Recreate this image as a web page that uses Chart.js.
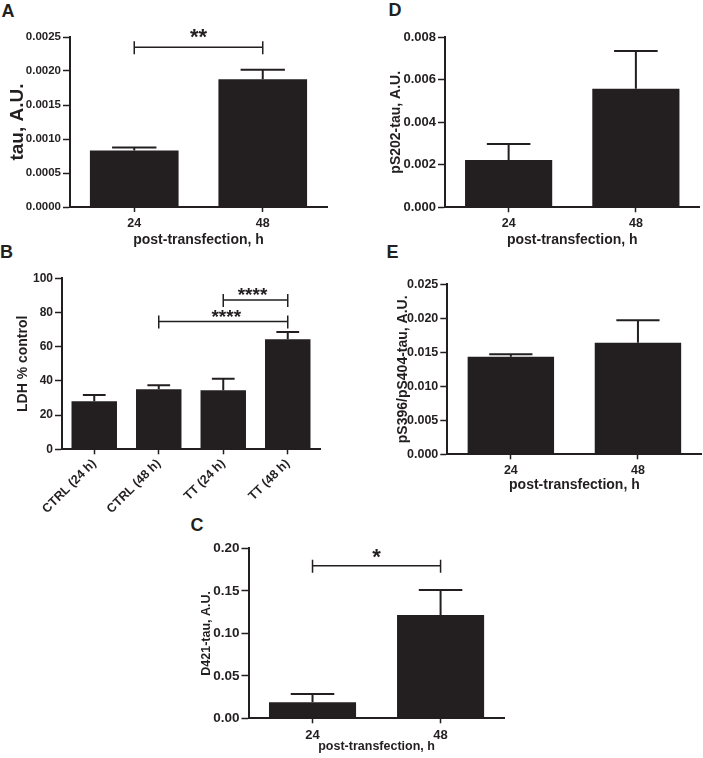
<!DOCTYPE html>
<html><head><meta charset="utf-8">
<script src="https://cdn.jsdelivr.net/npm/chart.js@4"></script>
<style>
html,body{margin:0;padding:0;background:#fff;}
body{width:703px;height:758px;position:relative;overflow:hidden;font-family:"Liberation Sans",Arial,sans-serif;}
canvas{position:absolute;}
.lbl{position:absolute;font-weight:bold;font-size:18px;line-height:18px;color:#231f20;}
</style></head><body>
<div class="lbl" style="left:1.5px;top:1.5px">A</div>
<div class="lbl" style="left:0px;top:242.5px">B</div>
<div class="lbl" style="left:190.5px;top:515.5px">C</div>
<div class="lbl" style="left:388.5px;top:0.5px">D</div>
<div class="lbl" style="left:386.5px;top:242.5px">E</div>
<canvas id="cA"></canvas>
<canvas id="cB"></canvas>
<canvas id="cC"></canvas>
<canvas id="cD"></canvas>
<canvas id="cE"></canvas>
<script>
// ---------------- data ----------------
const hoursLabels = ['24', '48'];
const ldhLabels = ['CTRL (24 h)', 'CTRL (48 h)', 'TT (24 h)', 'TT (48 h)'];

const tauMean = [0.00083, 0.00188];
const tauSem = [0.000044, 0.000137];
const tauYTicks = ['0.0000', '0.0005', '0.0010', '0.0015', '0.0020', '0.0025'];

const ldhMean = [28.1, 35.1, 34.5, 64.3];
const ldhSem = [3.7, 2.3, 6.8, 4.3];
const ldhYTicks = ['0', '20', '40', '60', '80', '100'];

const d421Mean = [0.019, 0.1215];
const d421Sem = [0.0097, 0.0295];
const d421YTicks = ['0.00', '0.05', '0.10', '0.15', '0.20'];

const ps202Mean = [0.00223, 0.00558];
const ps202Sem = [0.00075, 0.00178];
const ps202YTicks = ['0.000', '0.002', '0.004', '0.006', '0.008'];

const ps396Mean = [0.01436, 0.01642];
const ps396Sem = [0.00034, 0.00329];
const ps396YTicks = ['0.000', '0.005', '0.010', '0.015', '0.020', '0.025'];

// ---------------- drawing helpers ----------------
const INK = '#231f20';
const FAMILY = "'Liberation Sans', Arial, sans-serif";

function errorBars(sem) {
  return {
    id: 'errbars',
    afterDatasetsDraw(chart) {
      const meta = chart.getDatasetMeta(0);
      const ys = chart.scales.y;
      const ctx = chart.ctx;
      const vals = chart.data.datasets[0].data;
      ctx.save();
      ctx.strokeStyle = INK;
      ctx.lineWidth = 2;
      meta.data.forEach((bar, i) => {
        const yTop = ys.getPixelForValue(vals[i] + sem[i]);
        const half = bar.width * 0.25;
        ctx.beginPath();
        ctx.moveTo(bar.x, bar.y);
        ctx.lineTo(bar.x, yTop);
        ctx.moveTo(bar.x - half, yTop);
        ctx.lineTo(bar.x + half, yTop);
        ctx.stroke();
      });
      ctx.restore();
    }
  };
}

function brackets(list) {
  return {
    id: 'sig',
    afterDatasetsDraw(chart) {
      const xs = chart.scales.x, ys = chart.scales.y, ctx = chart.ctx;
      ctx.save();
      list.forEach(b => {
        const x1 = xs.getPixelForValue(b.from);
        const x2 = xs.getPixelForValue(b.to);
        const y = ys.getPixelForValue(b.y);
        ctx.strokeStyle = INK;
        ctx.lineWidth = 1.5;
        ctx.beginPath();
        ctx.moveTo(x1, y); ctx.lineTo(x2, y);
        ctx.moveTo(x1, y - 6); ctx.lineTo(x1, y + 7);
        ctx.moveTo(x2, y - 6); ctx.lineTo(x2, y + 7);
        ctx.stroke();
        ctx.fillStyle = INK;
        ctx.font = 'bold ' + b.size + 'px ' + FAMILY;
        ctx.textAlign = 'center';
        ctx.textBaseline = 'alphabetic';
        const m = ctx.measureText(b.text);
        const cy = y - b.gap;
        const base = cy + (m.actualBoundingBoxAscent - m.actualBoundingBoxDescent) / 2;
        ctx.fillText(b.text, (x1 + x2) / 2 + (b.dx || 0), base);
      });
      ctx.restore();
    }
  };
}

function panel(id, g, labels, mean, sem, yLabels, yMax, yStep, yTitle, xTitle, bars) {
  const lhY = g.yTitleSize * 1.2;
  const lhX = g.titleSize * 1.2;
  const left = Math.round(g.yTitleX - lhY / 2);
  const top = Math.round(g.top - 14);
  const bottom = g.canvasBottom ? g.canvasBottom : Math.round(g.xTitleY + lhX / 2);
  const width = Math.ceil(g.right + 3) - left;
  const height = bottom - top;
  const cv = document.getElementById(id);
  cv.style.left = left + 'px';
  cv.style.top = top + 'px';
  cv.width = width; cv.height = height;
  cv.style.width = width + 'px'; cv.style.height = height + 'px';
  const yW = g.axisX - left;
  const xH = bottom - g.bottom;
  const yTickFont = { family: FAMILY, size: g.tickSize, weight: 'bold' };
  const xTickFont = { family: FAMILY, size: g.xTickSize, weight: 'bold' };
  const xTitleFont = { family: FAMILY, size: g.titleSize, weight: 'bold' };
  const yTitleFont = { family: FAMILY, size: g.yTitleSize, weight: 'bold' };
  new Chart(cv, {
    type: 'bar',
    data: {
      labels: labels,
      datasets: [{ data: mean, backgroundColor: INK, borderWidth: 0, barPercentage: g.bp, categoryPercentage: 1 }]
    },
    options: {
      responsive: false, animation: false, devicePixelRatio: 1,
      layout: { padding: { left: 0, top: g.top - top, right: left + width - g.right, bottom: 0 } },
      plugins: { legend: { display: false }, tooltip: { enabled: false } },
      scales: {
        x: {
          offset: true,
          grid: { display: true, drawOnChartArea: false, drawTicks: true, tickLength: 5, tickWidth: 1.5, tickColor: INK, offset: false },
          border: { display: true, width: 2, color: INK },
          ticks: { color: INK, font: xTickFont, padding: g.xPad, autoSkip: false, maxRotation: g.rot, minRotation: g.rot },
          title: { display: !!xTitle, text: xTitle, color: INK, font: xTitleFont, padding: 0 },
          afterFit: s => { s.height = xH; }
        },
        y: {
          min: 0, max: yMax,
          grid: { display: true, drawOnChartArea: false, drawTicks: true, tickLength: 7, tickWidth: 1.5, tickColor: INK },
          border: { display: true, width: 2, color: INK },
          ticks: { stepSize: yStep, color: INK, font: yTickFont, padding: 2, callback: (v, i) => (yLabels[i] !== undefined ? yLabels[i] : '') },
          title: { display: true, text: yTitle, color: INK, font: yTitleFont, padding: 0 },
          afterFit: s => { s.width = yW; }
        }
      }
    },
    plugins: [errorBars(sem), brackets(bars)]
  });
}

panel('cA', { axisX: 70, top: 37, bottom: 207, right: 327, yTitleX: 17.5, xTitleY: 241, tickSize: 11.5, xTickSize: 12.5, titleSize: 14, yTitleSize: 19, bp: 0.69, rot: 0, xPad: 4 },
  hoursLabels, tauMean, tauSem, tauYTicks, 0.0025, 0.0005, 'tau, A.U.', 'post-transfection, h',
  [{ from: 0, to: 1, y: 0.00235, text: '**', gap: 13.5, size: 22 }]);

panel('cB', { axisX: 62, top: 278.3, bottom: 449.3, right: 320, yTitleX: 23, canvasBottom: 518, tickSize: 12, xTickSize: 12.5, titleSize: 14, yTitleSize: 14, bp: 0.705, rot: 45, xPad: 2 },
  ldhLabels, ldhMean, ldhSem, ldhYTicks, 100, 20, 'LDH % control', '',
  [{ from: 2, to: 3, y: 87.3, text: '****', gap: 8.3, size: 19, dx: -3 },
   { from: 1, to: 3, y: 74.7, text: '****', gap: 7.7, size: 19, dx: 3 }]);

panel('cC', { axisX: 248.5, top: 548.3, bottom: 718.3, right: 504.6, yTitleX: 206, xTitleY: 746, tickSize: 13.5, xTickSize: 13, titleSize: 12.5, yTitleSize: 12.5, bp: 0.68, rot: 0, xPad: 4 },
  hoursLabels, d421Mean, d421Sem, d421YTicks, 0.20, 0.05, 'D421-tau, A.U.', 'post-transfection, h',
  [{ from: 0, to: 1, y: 0.1796, text: '*', gap: 12.3, size: 22 }]);

panel('cD', { axisX: 445, top: 37.3, bottom: 207.3, right: 699.5, yTitleX: 396.7, xTitleY: 240.5, tickSize: 13, xTickSize: 12.5, titleSize: 14, yTitleSize: 14, bp: 0.685, rot: 0, xPad: 4 },
  hoursLabels, ps202Mean, ps202Sem, ps202YTicks, 0.008, 0.002, 'pS202-tau, A.U.', 'post-transfection, h', []);

panel('cE', { axisX: 447.3, top: 284.3, bottom: 454.3, right: 701.5, yTitleX: 403, xTitleY: 486, tickSize: 12.5, xTickSize: 12.5, titleSize: 14, yTitleSize: 14, bp: 0.68, rot: 0, xPad: 4 },
  hoursLabels, ps396Mean, ps396Sem, ps396YTicks, 0.025, 0.005, 'pS396/pS404-tau, A.U.', 'post-transfection, h', []);
</script>
</body></html>
